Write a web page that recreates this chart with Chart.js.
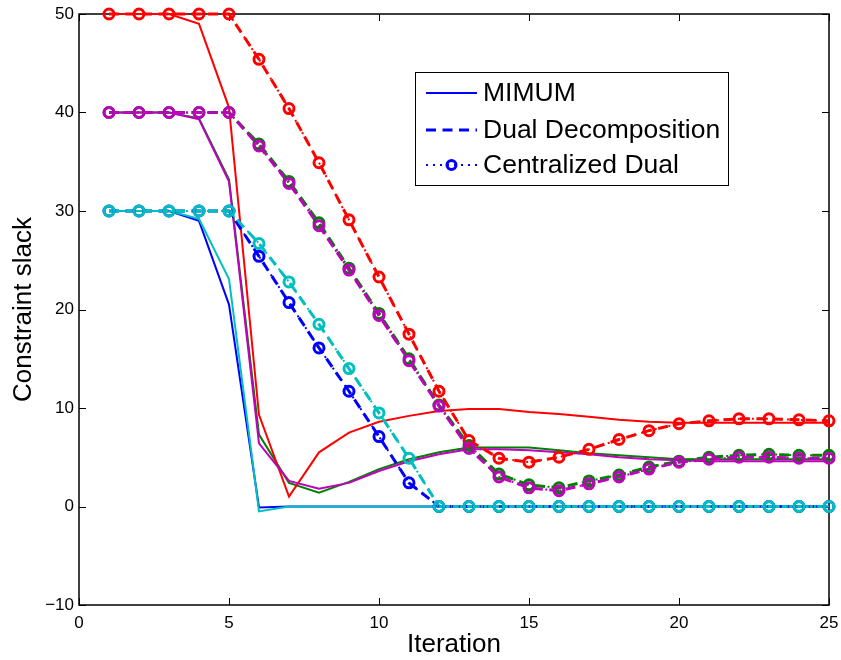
<!DOCTYPE html>
<html>
<head>
<meta charset="utf-8">
<script src="https://cdn.jsdelivr.net/npm/chart.js@4/dist/chart.umd.min.js"></script>
<style>
  body { margin: 0; background: #fff; }
</style>
</head>
<body>
<canvas id="chart_canvas" width="841" height="660"></canvas>
<script>
// x axis: iteration number
const iterations = [1, 2, 3, 4, 5, 6, 7, 8, 9, 10, 11, 12, 13, 14, 15, 16, 17, 18, 19, 20, 21, 22, 23, 24, 25];
const xTicks = [0, 5, 10, 15, 20, 25];
const yTicks = [-10, 0, 10, 20, 30, 40, 50];

// MIMUM (solid lines)
const mimumBlue    = [30, 30, 30, 29.0, 20.5, -0.1, 0, 0, 0, 0, 0, 0, 0, 0, 0, 0, 0, 0, 0, 0, 0, 0, 0, 0, 0];
const mimumGreen   = [40, 40, 40, 39.4, 33.2, 7.3, 2.4, 1.4, 2.5, 3.8, 4.8, 5.5, 6.0, 6.0, 6.0, 5.7, 5.4, 5.2, 5.0, 4.8, 4.8, 4.8, 4.8, 4.8, 4.8];
const mimumRed     = [50, 50, 50, 49.0, 40.5, 9.3, 1.0, 5.5, 7.5, 8.6, 9.2, 9.7, 9.9, 9.9, 9.6, 9.4, 9.1, 8.8, 8.6, 8.5, 8.5, 8.5, 8.5, 8.5, 8.5];
const mimumCyan    = [30, 30, 30, 29.2, 23.1, -0.5, 0, 0, 0, 0, 0, 0, 0, 0, 0, 0, 0, 0, 0, 0, 0, 0, 0, 0, 0];
const mimumMagenta = [40, 40, 40, 39.3, 33.0, 6.4, 2.6, 1.8, 2.4, 3.6, 4.6, 5.3, 5.8, 5.8, 5.7, 5.5, 5.3, 5.0, 4.8, 4.7, 4.6, 4.6, 4.6, 4.6, 4.6];

// Dual Decomposition and Centralized Dual lie on top of each other
const dualBlue    = [30, 30, 30, 30, 30, 25.4, 20.7, 16.1, 11.7, 7.1, 2.4, 0, 0, 0, 0, 0, 0, 0, 0, 0, 0, 0, 0, 0, 0];
const dualGreen   = [40, 40, 40, 40, 40, 36.8, 33.0, 28.8, 24.2, 19.6, 15.0, 10.3, 6.2, 3.3, 2.2, 1.9, 2.6, 3.2, 4.0, 4.6, 5.0, 5.2, 5.3, 5.2, 5.2];
const dualRed     = [50, 50, 50, 50, 50, 45.4, 40.4, 34.9, 29.1, 23.3, 17.5, 11.7, 6.7, 4.9, 4.5, 5.0, 5.8, 6.8, 7.7, 8.4, 8.7, 8.9, 8.9, 8.8, 8.7];
const dualCyan    = [30, 30, 30, 30, 30, 26.7, 22.8, 18.5, 14.0, 9.5, 4.9, 0, 0, 0, 0, 0, 0, 0, 0, 0, 0, 0, 0, 0, 0];
const dualMagenta = [40, 40, 40, 40, 40, 36.6, 32.8, 28.5, 24.0, 19.4, 14.8, 10.2, 5.9, 3.0, 1.9, 1.6, 2.3, 3.0, 3.8, 4.5, 4.8, 5.0, 5.0, 4.9, 4.9];

const methodNames = ['MIMUM', 'Dual Decomposition', 'Centralized Dual'];
const colors = ['#0000ff', '#008000', '#ff0000', '#00bfbf', '#bf00bf'];
const fontFamily = "'Liberation Sans', Arial, sans-serif";

function toPoints(values) {
    return iterations.map((it, k) => ({ x: it, y: values[k] }));
}

const seriesByMethod = [
    [mimumBlue, mimumGreen, mimumRed, mimumCyan, mimumMagenta],
    [dualBlue, dualGreen, dualRed, dualCyan, dualMagenta],
    [dualBlue, dualGreen, dualRed, dualCyan, dualMagenta]
];

let datasets = [];
let idx = 0;
seriesByMethod.forEach((group, m) => {
    group.forEach((values, c) => {
        let ds = {
            label: methodNames[m] + ' ' + (c + 1),
            data: toPoints(values),
            borderColor: colors[c],
            backgroundColor: colors[c],
            pointBackgroundColor: 'rgba(0,0,0,0)',
            pointBorderColor: colors[c],
            tension: 0,
            clip: false,
            order: 100 - idx
        };
        if (m == 0) {
            ds.borderWidth = 2;
            ds.pointRadius = 0;
        } else if (m == 1) {
            ds.borderWidth = 3;
            ds.borderDash = [10, 6.5];
            ds.pointRadius = 0;
        } else {
            ds.borderWidth = 2;
            ds.borderDash = [2, 5];
            ds.pointRadius = 5;
            ds.pointBorderWidth = 3;
        }
        datasets.push(ds);
        idx++;
    });
});

// box + inward tick marks, matlab style
const framePlugin = {
    id: 'frame',
    beforeDatasetsDraw(chart) {
        const { ctx, chartArea: a, scales } = chart;
        ctx.save();
        ctx.strokeStyle = '#000';
        ctx.lineWidth = 1;
        xTicks.forEach(v => {
            const px = Math.round(scales.x.getPixelForValue(v)) + 0.5;
            ctx.beginPath();
            ctx.moveTo(px, a.bottom); ctx.lineTo(px, a.bottom - 7);
            ctx.moveTo(px, a.top); ctx.lineTo(px, a.top + 7);
            ctx.stroke();
        });
        yTicks.forEach(v => {
            const py = Math.round(scales.y.getPixelForValue(v)) + 0.5;
            ctx.beginPath();
            ctx.moveTo(a.left, py); ctx.lineTo(a.left + 7, py);
            ctx.moveTo(a.right, py); ctx.lineTo(a.right - 7, py);
            ctx.stroke();
        });
        ctx.lineWidth = 1.5;
        ctx.strokeRect(a.left, a.top, a.right - a.left, a.bottom - a.top);
        ctx.restore();
    }
};

// legend box inside the axes
const legendPlugin = {
    id: 'boxLegend',
    afterDraw(chart) {
        const { ctx, chartArea: a } = chart;
        const bx = a.left + 336, by = a.top + 58, bw = 313, bh = 113;
        ctx.save();
        ctx.fillStyle = '#fff';
        ctx.fillRect(bx, by, bw, bh);
        ctx.strokeStyle = '#000';
        ctx.lineWidth = 1;
        ctx.strokeRect(bx + 0.5, by + 0.5, bw, bh);

        const x0 = bx + 11, x1 = bx + 62;
        const rows = [by + 21, by + 58, by + 93];
        ctx.strokeStyle = colors[0];

        ctx.setLineDash([]);
        ctx.lineWidth = 2;
        ctx.beginPath(); ctx.moveTo(x0, rows[0]); ctx.lineTo(x1, rows[0]); ctx.stroke();

        ctx.setLineDash([10, 6.5]);
        ctx.lineWidth = 3;
        ctx.beginPath(); ctx.moveTo(x0, rows[1]); ctx.lineTo(x1, rows[1]); ctx.stroke();

        ctx.setLineDash([2, 5]);
        ctx.lineWidth = 2;
        ctx.beginPath(); ctx.moveTo(x0, rows[2]); ctx.lineTo(x1, rows[2]); ctx.stroke();
        ctx.setLineDash([]);
        ctx.lineWidth = 3;
        ctx.beginPath(); ctx.arc((x0 + x1) / 2, rows[2], 4.5, 0, Math.PI * 2); ctx.stroke();

        ctx.fillStyle = '#000';
        ctx.font = '26.5px ' + fontFamily;
        ctx.textBaseline = 'middle';
        ctx.textAlign = 'left';
        methodNames.forEach((name, i) => {
            ctx.fillText(name, x1 + 6, rows[i] + 1);
        });
        ctx.restore();
    }
};

const ctx = document.getElementById('chart_canvas').getContext('2d');
const chart = new Chart(ctx, {
    type: 'line',
    data: { datasets: datasets },
    options: {
        responsive: false,
        animation: false,
        devicePixelRatio: 1,
        layout: { padding: { top: 14, right: 12, left: 0, bottom: 0 } },
        plugins: {
            legend: { display: false },
            tooltip: { enabled: false }
        },
        scales: {
            x: {
                type: 'linear',
                min: 0,
                max: 25,
                afterFit: (scale) => {
                    scale.height = 55;
                    scale.paddingLeft = 0;
                    scale.paddingRight = 0;
                },
                afterBuildTicks: (scale) => { scale.ticks = xTicks.map(v => ({ value: v })); },
                grid: { display: false, drawTicks: false },
                border: { display: false },
                ticks: { color: '#000', padding: 8, font: { size: 17, family: fontFamily }, maxRotation: 0 },
                title: {
                    display: true,
                    text: 'Iteration',
                    color: '#000',
                    font: { size: 26, family: fontFamily },
                    padding: { top: 0, bottom: 0 }
                }
            },
            y: {
                type: 'linear',
                min: -10,
                max: 50,
                afterFit: (scale) => {
                    scale.width = 79;
                    scale.paddingTop = 0;
                    scale.paddingBottom = 0;
                },
                afterBuildTicks: (scale) => { scale.ticks = yTicks.map(v => ({ value: v })); },
                grid: { display: false, drawTicks: false },
                border: { display: false },
                ticks: {
                    color: '#000',
                    padding: 5,
                    font: { size: 17, family: fontFamily },
                    callback: (v) => v < 0 ? '\u2212' + Math.abs(v) : v
                },
                title: {
                    display: true,
                    text: 'Constraint slack',
                    color: '#000',
                    font: { size: 26, family: fontFamily },
                    padding: { top: 8, bottom: 0 }
                }
            }
        }
    },
    plugins: [framePlugin, legendPlugin]
});
</script>
</body>
</html>
